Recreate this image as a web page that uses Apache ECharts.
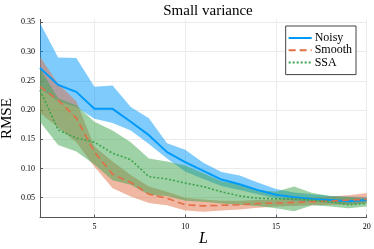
<!DOCTYPE html>
<html><head><meta charset="utf-8">
<script src="https://cdn.jsdelivr.net/npm/echarts@6/dist/echarts.min.js"></script>
<style>html,body{margin:0;padding:0;background:#fff}#c{width:374px;height:249px}</style>
</head><body><div id="c"></div>
<script>
const L = ['2','3','4','5','6','7','8','9','10','11','12','13','14','15','16','17','18','19','20'];
const yTicks = [0.05,0.10,0.15,0.20,0.25,0.30,0.35];
const noisyMean = [0.272,0.243,0.231,0.202,0.202,0.180,0.157,0.128,0.111,0.096,0.081,0.073,0.063,0.055,0.051,0.048,0.046,0.044,0.046];
const noisyLow  = [0.237,0.215,0.205,0.185,0.178,0.165,0.142,0.117,0.095,0.082,0.070,0.063,0.056,0.049,0.045,0.043,0.041,0.039,0.042];
const noisyHigh = [0.349,0.290,0.289,0.240,0.242,0.205,0.186,0.143,0.132,0.110,0.094,0.088,0.076,0.065,0.059,0.056,0.053,0.052,0.051];
const smoothMean = [0.240,0.217,0.186,0.128,0.090,0.076,0.056,0.049,0.038,0.036,0.037,0.038,0.040,0.041,0.042,0.043,0.044,0.046,0.047];
const smoothLow  = [0.195,0.170,0.145,0.103,0.066,0.052,0.041,0.037,0.028,0.026,0.028,0.030,0.033,0.035,0.036,0.037,0.038,0.038,0.040];
const smoothHigh = [0.291,0.245,0.215,0.137,0.112,0.089,0.069,0.060,0.050,0.047,0.045,0.045,0.046,0.047,0.049,0.050,0.052,0.054,0.058];
const ssaMean = [0.234,0.166,0.152,0.145,0.126,0.115,0.086,0.082,0.075,0.069,0.060,0.053,0.049,0.048,0.048,0.046,0.043,0.038,0.040];
const ssaLow  = [0.180,0.140,0.129,0.107,0.080,0.072,0.055,0.053,0.045,0.043,0.040,0.038,0.036,0.032,0.027,0.037,0.035,0.032,0.035];
const ssaHigh = [0.271,0.220,0.208,0.180,0.165,0.145,0.117,0.112,0.105,0.092,0.078,0.073,0.063,0.060,0.069,0.058,0.053,0.051,0.049];

const C = {Noisy:'#009AFA', Smooth:'#E26F46', SSA:'#3DA44D'};
const serif = '"Liberation Serif","DejaVu Serif",serif';

function band(name, low, high, color){
  return [
    {name:name+'_lo', type:'line', stack:name, data:low, symbol:'none', silent:true,
     lineStyle:{opacity:0}},
    {name:name+'_band', type:'line', stack:name, data:high.map((h,i)=>+(h-low[i]).toFixed(4)), symbol:'none', silent:true,
     lineStyle:{opacity:0}, areaStyle:{color:color, opacity:0.5}}
  ];
}
const every5 = (i, v) => (+v) % 5 === 0;
const chart = echarts.init(document.getElementById('c'), null, {renderer:'canvas'});
chart.setOption({
  animation:false,
  title:{text:'Small variance', left:203, top:-1, textAlign:'center',
    textStyle:{fontFamily:serif, fontSize:15, fontWeight:'normal', color:'#000'}},
  grid:{left:40, right:7.3, top:19.4, bottom:31.3, containLabel:false, outerBoundsMode:'none'},
  legend:{data:['Noisy','Smooth','SSA'], orient:'vertical', right:18, top:26,
    itemWidth:23, itemHeight:8, itemGap:0.3, padding:[6,4,6,2],
    itemStyle:{opacity:0},
    backgroundColor:'#fff', borderColor:'#444', borderWidth:1,
    textStyle:{fontFamily:serif, fontSize:12, color:'#000', lineHeight:12, padding:[0,0,0,-2]}},
  xAxis:{type:'category', data:L, boundaryGap:false,
    name:'L', nameLocation:'middle', nameGap:13, nameMoveOverlap:false,
    nameTextStyle:{fontFamily:serif, fontStyle:'italic', fontSize:16, color:'#000'},
    axisLine:{lineStyle:{color:'#555', width:1}},
    axisTick:{inside:true, length:3, interval:every5, lineStyle:{color:'#555'}},
    axisLabel:{interval:every5, fontFamily:serif, fontSize:8, color:'#000', margin:5},
    splitLine:{show:true, interval:every5, lineStyle:{color:'#ebebeb', width:1}}},
  yAxis:{type:'value', min:0.0158, max:0.355,
    name:'RMSE', nameLocation:'middle', nameGap:25, nameRotate:90, nameMoveOverlap:false,
    nameTextStyle:{fontFamily:serif, fontSize:15, color:'#000'},
    axisLine:{show:true, lineStyle:{color:'#555', width:1}},
    axisTick:{show:true, inside:true, length:3, customValues:yTicks, lineStyle:{color:'#555'}},
    axisLabel:{customValues:yTicks, formatter:v=>v.toFixed(2), fontFamily:serif, fontSize:8, color:'#000', margin:5},
    splitLine:{show:true, lineStyle:{color:'#ebebeb', width:1}}},
  series:[
    ...band('noisy', noisyLow, noisyHigh, C.Noisy),
    {name:'Noisy', type:'line', data:noisyMean, symbol:'none',
      lineStyle:{color:C.Noisy, width:2}, itemStyle:{color:C.Noisy}},
    ...band('smooth', smoothLow, smoothHigh, C.Smooth),
    {name:'Smooth', type:'line', data:smoothMean, symbol:'none',
      lineStyle:{color:C.Smooth, width:1.6, type:[7,4]}, itemStyle:{color:C.Smooth}},
    ...band('ssa', ssaLow, ssaHigh, C.SSA),
    {name:'SSA', type:'line', data:ssaMean, symbol:'none',
      lineStyle:{color:C.SSA, width:1.6, type:[2,2]}, itemStyle:{color:C.SSA}}
  ]
});
</script></body></html>
